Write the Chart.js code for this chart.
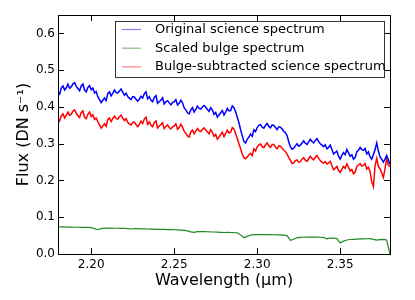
<!DOCTYPE html>
<html><head><meta charset="utf-8">
<script src="https://cdn.jsdelivr.net/npm/chart.js@4.4.0/dist/chart.umd.min.js"></script>
<style>html,body{margin:0;padding:0;background:#fff;}canvas{display:block;}</style>
</head><body>
<canvas id="c" width="415" height="300"></canvas>
<script>
const wavelengthScience = [
2.180,2.181,2.182,2.183,2.184,2.185,2.186,2.187,2.188,2.189,
2.190,2.191,2.192,2.193,2.194,2.195,2.196,2.197,2.198,2.199,
2.200,2.201,2.202,2.203,2.204,2.205,2.206,2.207,2.208,2.209,
2.210,2.211,2.212,2.213,2.214,2.215,2.216,2.217,2.218,2.219,
2.220,2.221,2.222,2.223,2.224,2.225,2.226,2.227,2.228,2.229,
2.230,2.231,2.232,2.233,2.234,2.235,2.236,2.237,2.238,2.239,
2.240,2.241,2.242,2.243,2.244,2.245,2.246,2.247,2.248,2.249,
2.250,2.251,2.252,2.253,2.254,2.255,2.256,2.257,2.258,2.259,
2.260,2.261,2.262,2.263,2.264,2.265,2.266,2.267,2.268,2.269,
2.270,2.271,2.272,2.273,2.274,2.275,2.276,2.277,2.278,2.279,
2.280,2.281,2.282,2.283,2.284,2.285,2.286,2.287,2.288,2.289,
2.290,2.291,2.292,2.293,2.294,2.295,2.296,2.297,2.298,2.299,
2.300,2.301,2.302,2.303,2.304,2.305,2.306,2.307,2.308,2.309,
2.310,2.311,2.312,2.313,2.314,2.315,2.316,2.317,2.318,2.319,
2.320,2.321,2.322,2.323,2.324,2.325,2.326,2.327,2.328,2.329,
2.330,2.331,2.332,2.333,2.334,2.335,2.336,2.337,2.338,2.339,
2.340,2.341,2.342,2.343,2.344,2.345,2.346,2.347,2.348,2.349,
2.350,2.351,2.352,2.353,2.354,2.355,2.356,2.357,2.358,2.359,
2.360,2.361,2.362,2.363,2.364,2.365,2.366,2.367,2.368,2.369,
2.370,2.371,2.372,2.373,2.374,2.375,2.376,2.377,2.378,2.379,
2.380];
const originalSpectrum = [
0.441,0.435,0.452,0.457,0.446,0.452,0.462,0.451,0.455,0.463,
0.466,0.456,0.450,0.444,0.457,0.462,0.446,0.441,0.453,0.458,
0.447,0.451,0.438,0.442,0.428,0.420,0.412,0.418,0.424,0.417,
0.436,0.441,0.430,0.437,0.446,0.439,0.438,0.443,0.449,0.440,
0.432,0.437,0.428,0.424,0.420,0.428,0.427,0.421,0.416,0.421,
0.429,0.424,0.436,0.441,0.422,0.428,0.418,0.414,0.426,0.431,
0.410,0.414,0.419,0.425,0.408,0.414,0.417,0.411,0.406,0.412,
0.414,0.420,0.405,0.410,0.418,0.411,0.398,0.392,0.384,0.381,
0.392,0.398,0.386,0.393,0.402,0.396,0.394,0.400,0.404,0.399,
0.393,0.388,0.398,0.392,0.380,0.385,0.372,0.378,0.384,0.390,
0.378,0.386,0.396,0.389,0.390,0.403,0.398,0.387,0.372,0.357,
0.338,0.322,0.306,0.302,0.312,0.318,0.326,0.320,0.338,0.333,
0.344,0.350,0.352,0.345,0.342,0.350,0.355,0.347,0.343,0.351,
0.350,0.344,0.338,0.346,0.345,0.340,0.334,0.330,0.322,0.305,
0.292,0.285,0.288,0.294,0.300,0.293,0.296,0.302,0.308,0.301,
0.298,0.305,0.312,0.306,0.302,0.309,0.314,0.306,0.300,0.296,
0.292,0.297,0.286,0.290,0.296,0.284,0.272,0.276,0.280,0.266,
0.258,0.268,0.276,0.270,0.284,0.275,0.266,0.270,0.258,0.262,
0.278,0.282,0.290,0.284,0.282,0.287,0.272,0.278,0.264,0.258,
0.270,0.284,0.302,0.280,0.264,0.258,0.250,0.258,0.268,0.256,
0.244];
const subtractedSpectrum = [
0.368,0.362,0.376,0.381,0.370,0.378,0.386,0.377,0.380,0.388,
0.392,0.383,0.376,0.371,0.385,0.389,0.372,0.368,0.380,0.386,
0.374,0.379,0.366,0.370,0.360,0.352,0.342,0.349,0.354,0.347,
0.366,0.370,0.360,0.368,0.375,0.368,0.367,0.373,0.378,0.369,
0.363,0.368,0.358,0.354,0.351,0.358,0.359,0.352,0.346,0.352,
0.361,0.355,0.367,0.372,0.353,0.359,0.350,0.346,0.358,0.362,
0.343,0.348,0.352,0.357,0.341,0.347,0.351,0.344,0.340,0.346,
0.348,0.354,0.339,0.344,0.353,0.345,0.334,0.328,0.321,0.318,
0.332,0.337,0.327,0.334,0.341,0.335,0.333,0.339,0.343,0.337,
0.332,0.327,0.338,0.331,0.320,0.325,0.312,0.318,0.325,0.331,
0.319,0.328,0.337,0.329,0.331,0.344,0.340,0.328,0.314,0.300,
0.286,0.272,0.262,0.259,0.264,0.270,0.274,0.268,0.286,0.280,
0.291,0.297,0.299,0.292,0.289,0.297,0.302,0.294,0.290,0.298,
0.298,0.291,0.286,0.294,0.293,0.288,0.282,0.279,0.272,0.262,
0.255,0.246,0.248,0.254,0.256,0.250,0.251,0.258,0.262,0.255,
0.252,0.259,0.266,0.260,0.256,0.263,0.268,0.260,0.254,0.250,
0.247,0.251,0.245,0.248,0.252,0.240,0.229,0.233,0.238,0.227,
0.222,0.231,0.238,0.233,0.245,0.236,0.226,0.230,0.218,0.223,
0.238,0.242,0.246,0.239,0.241,0.246,0.231,0.236,0.224,0.196,
0.183,0.240,0.260,0.238,0.232,0.220,0.208,0.232,0.258,0.242,
0.237];
const wavelengthBulge = [
2.180,2.182,2.184,2.186,2.188,2.190,2.192,2.194,2.196,2.198,
2.200,2.202,2.204,2.206,2.208,2.210,2.212,2.214,2.216,2.218,
2.220,2.222,2.224,2.226,2.228,2.230,2.232,2.234,2.236,2.238,
2.240,2.242,2.244,2.246,2.248,2.250,2.252,2.254,2.256,2.258,
2.260,2.262,2.264,2.266,2.268,2.270,2.272,2.274,2.276,2.278,
2.280,2.282,2.284,2.286,2.288,2.290,2.292,2.294,2.296,2.298,
2.300,2.302,2.304,2.306,2.308,2.310,2.312,2.314,2.316,2.318,
2.320,2.322,2.324,2.326,2.328,2.330,2.332,2.334,2.336,2.338,
2.340,2.342,2.344,2.346,2.348,2.350,2.352,2.354,2.356,2.358,
2.360,2.362,2.364,2.366,2.368,2.370,2.372,2.374,2.376,2.378,
2.380];
const bulgeSpectrum = [
0.0740,0.0738,0.0735,0.0733,0.0730,0.0728,0.0727,0.0726,0.0724,0.0722,
0.0720,0.0690,0.0660,0.0690,0.0705,0.0705,0.0703,0.0700,0.0700,0.0698,
0.0695,0.0692,0.0680,0.0690,0.0688,0.0685,0.0682,0.0680,0.0678,0.0675,
0.0672,0.0670,0.0668,0.0665,0.0662,0.0660,0.0655,0.0650,0.0645,0.0630,
0.0600,0.0590,0.0610,0.0612,0.0610,0.0605,0.0600,0.0598,0.0595,0.0590,
0.0585,0.0590,0.0585,0.0580,0.0578,0.0520,0.0440,0.0480,0.0515,0.0525,
0.0528,0.0528,0.0526,0.0525,0.0525,0.0523,0.0520,0.0520,0.0515,0.0500,
0.0370,0.0400,0.0445,0.0450,0.0455,0.0458,0.0460,0.0460,0.0462,0.0455,
0.0450,0.0410,0.0435,0.0430,0.0420,0.0300,0.0350,0.0380,0.0395,0.0400,
0.0405,0.0410,0.0412,0.0415,0.0418,0.0400,0.0380,0.0390,0.0395,0.0380,
0.0000];
const seriesLabels = ['Original science spectrum','Scaled bulge spectrum','Bulge-subtracted science spectrum'];
const xTickValues = [2.20, 2.25, 2.30, 2.35];
const yTickValues = [0.0, 0.1, 0.2, 0.3, 0.4, 0.5, 0.6];

const lineColors = ['#0000ff', '#1f881f', '#ff0000'];
const legendColors = ['rgba(0,0,255,0.5)', 'rgba(0,128,0,0.5)', 'rgba(255,0,0,0.5)'];
const FONT = 'DejaVu Sans';

function toPoints(xs, arr){ return xs.map((w,i)=>({x:w, y:arr[i]})); }

const framePlugin = {
  id: 'frame',
  afterDraw(chart){
    const ctx = chart.ctx;
    const {left, right, top, bottom} = chart.chartArea;
    const xs = chart.scales.x, ys = chart.scales.y;
    ctx.save();
    ctx.strokeStyle = '#000';
    ctx.lineWidth = 1;
    ctx.beginPath();
    xTickValues.forEach(v => {
      const px = Math.round(xs.getPixelForValue(v)) + 0.5;
      ctx.moveTo(px, bottom); ctx.lineTo(px, bottom - 6);
      ctx.moveTo(px, top); ctx.lineTo(px, top + 6);
    });
    yTickValues.forEach(v => {
      const py = Math.round(ys.getPixelForValue(v)) + 0.5;
      ctx.moveTo(left, py); ctx.lineTo(left + 6, py);
      ctx.moveTo(right, py); ctx.lineTo(right - 6, py);
    });
    ctx.stroke();
    ctx.strokeRect(Math.round(left) + 0.5, Math.round(top) + 0.5, Math.round(right - left), Math.round(bottom - top));
    ctx.restore();
  }
};

const legendPlugin = {
  id: 'boxLegend',
  afterDraw(chart){
    const ctx = chart.ctx;
    const bx = 115.5, by = 21.5, bw = 269, bh = 56;
    ctx.save();
    ctx.fillStyle = '#fff';
    ctx.fillRect(bx, by, bw, bh);
    ctx.strokeStyle = '#333';
    ctx.lineWidth = 1;
    ctx.strokeRect(bx, by, bw, bh);
    ctx.font = '13px "' + FONT + '"';
    ctx.textBaseline = 'middle';
    ctx.fillStyle = '#000';
    chart.data.datasets.forEach((ds, i) => {
      const ry = 29.5 + i * 18.7;
      ctx.strokeStyle = legendColors[i];
      ctx.lineWidth = 1.2;
      ctx.beginPath();
      ctx.moveTo(122, ry); ctx.lineTo(141, ry);
      ctx.stroke();
      ctx.fillText(ds.label, 155, ry);
    });
    ctx.restore();
  }
};

new Chart(document.getElementById('c'), {
  type: 'line',
  data: {
    datasets: [
      {label: seriesLabels[0], data: toPoints(wavelengthScience, originalSpectrum), borderColor: lineColors[0], borderWidth: 1.5, pointRadius: 0, tension: 0, fill: false},
      {label: seriesLabels[1], data: toPoints(wavelengthBulge, bulgeSpectrum), borderColor: lineColors[1], borderWidth: 1.2, pointRadius: 0, tension: 0, fill: false},
      {label: seriesLabels[2], data: toPoints(wavelengthScience, subtractedSpectrum), borderColor: lineColors[2], borderWidth: 1.5, pointRadius: 0, tension: 0, fill: false}
    ]
  },
  options: {
    responsive: false,
    animation: false,
    layout: {padding: {left: 0, top: 15, right: 25, bottom: 0}},
    plugins: {legend: {display: false}, tooltip: {enabled: false}},
    scales: {
      x: {
        type: 'linear', min: 2.18, max: 2.38,
        grid: {display: false, drawTicks: false, tickLength: 0},
        border: {display: false},
        afterBuildTicks: s => { s.ticks = xTickValues.map(v => ({value: v})); },
        afterFit: s => { s.height = 46; },
        ticks: {padding: 4, maxRotation: 0, autoSkip: false, color: '#000', font: {family: FONT, size: 12},
          callback: v => Number(v).toFixed(2)},
        title: {display: true, text: 'Wavelength (\u03bcm)', color: '#000', font: {family: FONT, size: 16}, padding: {top: 0, bottom: 10}}
      },
      y: {
        type: 'linear', min: 0, max: 0.65,
        grid: {display: false, drawTicks: false, tickLength: 0},
        border: {display: false},
        afterBuildTicks: s => { s.ticks = yTickValues.map(v => ({value: v})); },
        afterFit: s => { s.width = 58; },
        ticks: {padding: 3, autoSkip: false, color: '#000', font: {family: FONT, size: 12},
          callback: v => Number(v).toFixed(1)},
        title: {display: true, text: 'Flux (DN s\u207b\u00b9)', color: '#000', font: {family: FONT, size: 16}, padding: {top: 14, bottom: 0}}
      }
    }
  },
  plugins: [framePlugin, legendPlugin]
});
</script>
</body></html>
